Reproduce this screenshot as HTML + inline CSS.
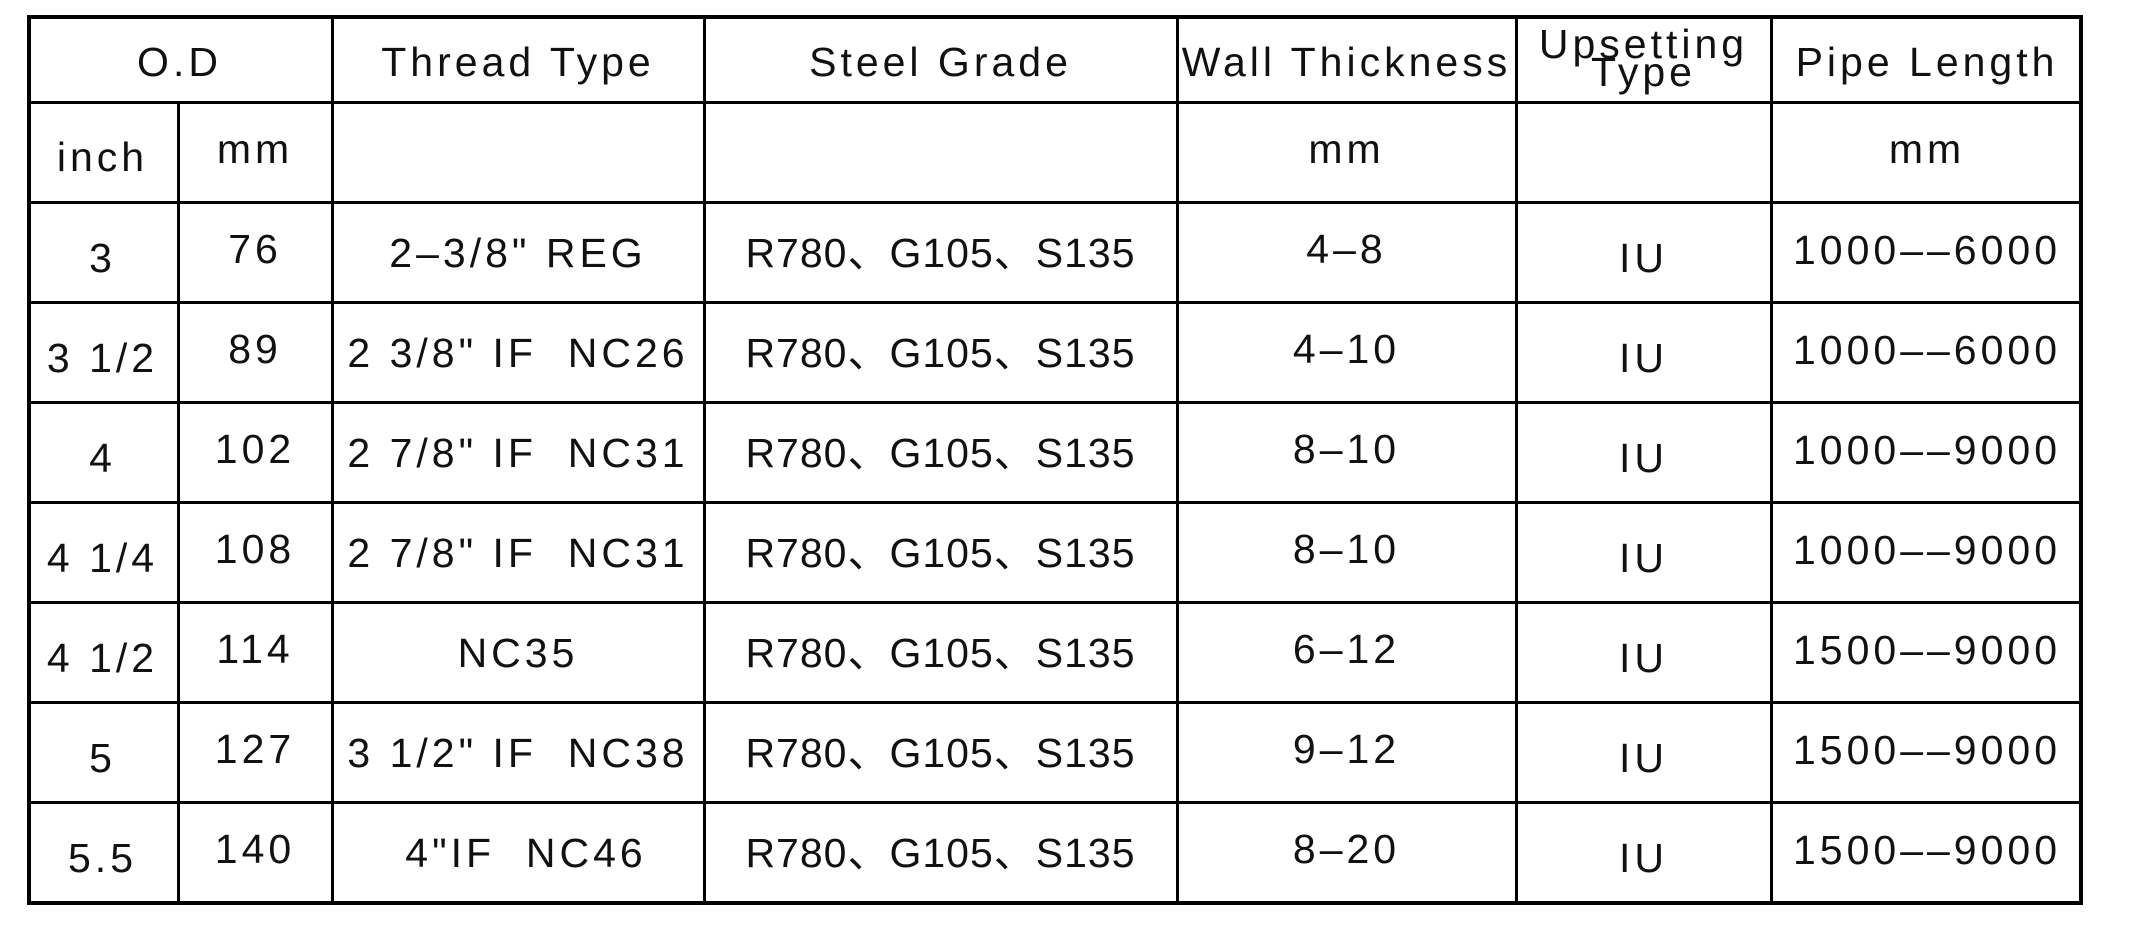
<!DOCTYPE html>
<html><head><meta charset="utf-8"><style>
html,body{margin:0;padding:0;background:#fff;width:2134px;height:929px;overflow:hidden;position:relative}
.b{position:absolute;left:27px;top:15px;width:2056px;height:890px;border:4px solid #000;box-sizing:border-box}
.h{position:absolute;height:3px;background:#000;left:27px;width:2056px}
.v{position:absolute;width:3px;background:#000}
.c{position:absolute;display:flex;align-items:center;justify-content:center;white-space:nowrap;
font-family:"Liberation Sans","Noto Sans CJK SC",Arial,sans-serif;font-size:41px;letter-spacing:4px;color:#111;line-height:1}
.c span{position:relative}
.g{letter-spacing:1px}
</style></head><body>
<div class="b"></div>
<div class="h" style="top:101px"></div>
<div class="h" style="top:201px"></div>
<div class="h" style="top:301px"></div>
<div class="h" style="top:401px"></div>
<div class="h" style="top:501px"></div>
<div class="h" style="top:601px"></div>
<div class="h" style="top:701px"></div>
<div class="h" style="top:801px"></div>
<div class="v" style="left:177px;top:101px;height:803px"></div>
<div class="v" style="left:331px;top:15px;height:889px"></div>
<div class="v" style="left:703px;top:15px;height:889px"></div>
<div class="v" style="left:1176px;top:15px;height:889px"></div>
<div class="v" style="left:1515px;top:15px;height:889px"></div>
<div class="v" style="left:1770px;top:15px;height:889px"></div>

<!-- header -->
<div class="c" style="left:27px;width:305px;top:15px;height:87px"><span style="top:4px">O.D</span></div>
<div class="c" style="left:332px;width:372px;top:15px;height:87px"><span style="top:4px">Thread Type</span></div>
<div class="c" style="left:704px;width:473px;top:15px;height:87px"><span style="top:4px">Steel Grade</span></div>
<div class="c" style="left:1177px;width:339px;top:15px;height:87px"><span style="top:4px">Wall Thickness</span></div>
<div class="c" style="left:1516px;width:255px;top:15px;height:87px"><span style="position:absolute;left:0;right:0;text-align:center;line-height:41px;height:41px;top:9px">Upsetting</span><span style="position:absolute;left:0;right:0;text-align:center;line-height:41px;height:41px;top:37px">Type</span></div>
<div class="c" style="left:1771px;width:312px;top:15px;height:87px"><span style="top:4px">Pipe Length</span></div>

<!-- units row -->
<div class="c" style="left:27px;width:151px;top:102px;height:100px"><span style="top:5px">inch</span></div>
<div class="c" style="left:178px;width:154px;top:102px;height:100px"><span style="top:-3px">mm</span></div>
<div class="c" style="left:1177px;width:339px;top:102px;height:100px"><span style="top:-3px">mm</span></div>
<div class="c" style="left:1771px;width:312px;top:102px;height:100px"><span style="top:-3px">mm</span></div>

<!-- data rows -->
<div class="c" style="left:27px;width:151px;top:202px;height:100px"><span style="top:6px">3</span></div>
<div class="c" style="left:178px;width:154px;top:202px;height:100px"><span style="top:-3px">76</span></div>
<div class="c" style="left:332px;width:372px;top:202px;height:100px"><span style="top:1px">2–3/8" REG</span></div>
<div class="c g" style="left:704px;width:473px;top:202px;height:100px"><span style="top:1px">R780、G105、S135</span></div>
<div class="c" style="left:1177px;width:339px;top:202px;height:100px"><span style="top:-3px">4–8</span></div>
<div class="c" style="left:1516px;width:255px;top:202px;height:100px"><span style="top:6px">IU</span></div>
<div class="c" style="left:1771px;width:312px;top:202px;height:100px"><span style="top:-2px">1000––6000</span></div>

<div class="c" style="left:27px;width:151px;top:302px;height:100px"><span style="top:6px">3 1/2</span></div>
<div class="c" style="left:178px;width:154px;top:302px;height:100px"><span style="top:-3px">89</span></div>
<div class="c" style="left:332px;width:372px;top:302px;height:100px"><span style="top:1px">2 3/8" IF&nbsp; NC26</span></div>
<div class="c g" style="left:704px;width:473px;top:302px;height:100px"><span style="top:1px">R780、G105、S135</span></div>
<div class="c" style="left:1177px;width:339px;top:302px;height:100px"><span style="top:-3px">4–10</span></div>
<div class="c" style="left:1516px;width:255px;top:302px;height:100px"><span style="top:6px">IU</span></div>
<div class="c" style="left:1771px;width:312px;top:302px;height:100px"><span style="top:-2px">1000––6000</span></div>

<div class="c" style="left:27px;width:151px;top:402px;height:100px"><span style="top:6px">4</span></div>
<div class="c" style="left:178px;width:154px;top:402px;height:100px"><span style="top:-3px">102</span></div>
<div class="c" style="left:332px;width:372px;top:402px;height:100px"><span style="top:1px">2 7/8" IF&nbsp; NC31</span></div>
<div class="c g" style="left:704px;width:473px;top:402px;height:100px"><span style="top:1px">R780、G105、S135</span></div>
<div class="c" style="left:1177px;width:339px;top:402px;height:100px"><span style="top:-3px">8–10</span></div>
<div class="c" style="left:1516px;width:255px;top:402px;height:100px"><span style="top:6px">IU</span></div>
<div class="c" style="left:1771px;width:312px;top:402px;height:100px"><span style="top:-2px">1000––9000</span></div>

<div class="c" style="left:27px;width:151px;top:502px;height:100px"><span style="top:6px">4 1/4</span></div>
<div class="c" style="left:178px;width:154px;top:502px;height:100px"><span style="top:-3px">108</span></div>
<div class="c" style="left:332px;width:372px;top:502px;height:100px"><span style="top:1px">2 7/8" IF&nbsp; NC31</span></div>
<div class="c g" style="left:704px;width:473px;top:502px;height:100px"><span style="top:1px">R780、G105、S135</span></div>
<div class="c" style="left:1177px;width:339px;top:502px;height:100px"><span style="top:-3px">8–10</span></div>
<div class="c" style="left:1516px;width:255px;top:502px;height:100px"><span style="top:6px">IU</span></div>
<div class="c" style="left:1771px;width:312px;top:502px;height:100px"><span style="top:-2px">1000––9000</span></div>

<div class="c" style="left:27px;width:151px;top:602px;height:100px"><span style="top:6px">4 1/2</span></div>
<div class="c" style="left:178px;width:154px;top:602px;height:100px"><span style="top:-3px">114</span></div>
<div class="c" style="left:332px;width:372px;top:602px;height:100px"><span style="top:1px">NC35</span></div>
<div class="c g" style="left:704px;width:473px;top:602px;height:100px"><span style="top:1px">R780、G105、S135</span></div>
<div class="c" style="left:1177px;width:339px;top:602px;height:100px"><span style="top:-3px">6–12</span></div>
<div class="c" style="left:1516px;width:255px;top:602px;height:100px"><span style="top:6px">IU</span></div>
<div class="c" style="left:1771px;width:312px;top:602px;height:100px"><span style="top:-2px">1500––9000</span></div>

<div class="c" style="left:27px;width:151px;top:702px;height:100px"><span style="top:6px">5</span></div>
<div class="c" style="left:178px;width:154px;top:702px;height:100px"><span style="top:-3px">127</span></div>
<div class="c" style="left:332px;width:372px;top:702px;height:100px"><span style="top:1px">3 1/2" IF&nbsp; NC38</span></div>
<div class="c g" style="left:704px;width:473px;top:702px;height:100px"><span style="top:1px">R780、G105、S135</span></div>
<div class="c" style="left:1177px;width:339px;top:702px;height:100px"><span style="top:-3px">9–12</span></div>
<div class="c" style="left:1516px;width:255px;top:702px;height:100px"><span style="top:6px">IU</span></div>
<div class="c" style="left:1771px;width:312px;top:702px;height:100px"><span style="top:-2px">1500––9000</span></div>

<div class="c" style="left:27px;width:151px;top:802px;height:100px"><span style="top:6px">5.5</span></div>
<div class="c" style="left:178px;width:154px;top:802px;height:100px"><span style="top:-3px">140</span></div>
<div class="c" style="left:332px;width:372px;top:802px;height:100px"><span style="top:1px;left:8px">4"IF&nbsp; NC46</span></div>
<div class="c g" style="left:704px;width:473px;top:802px;height:100px"><span style="top:1px">R780、G105、S135</span></div>
<div class="c" style="left:1177px;width:339px;top:802px;height:100px"><span style="top:-3px">8–20</span></div>
<div class="c" style="left:1516px;width:255px;top:802px;height:100px"><span style="top:6px">IU</span></div>
<div class="c" style="left:1771px;width:312px;top:802px;height:100px"><span style="top:-2px">1500––9000</span></div>
</body></html>
